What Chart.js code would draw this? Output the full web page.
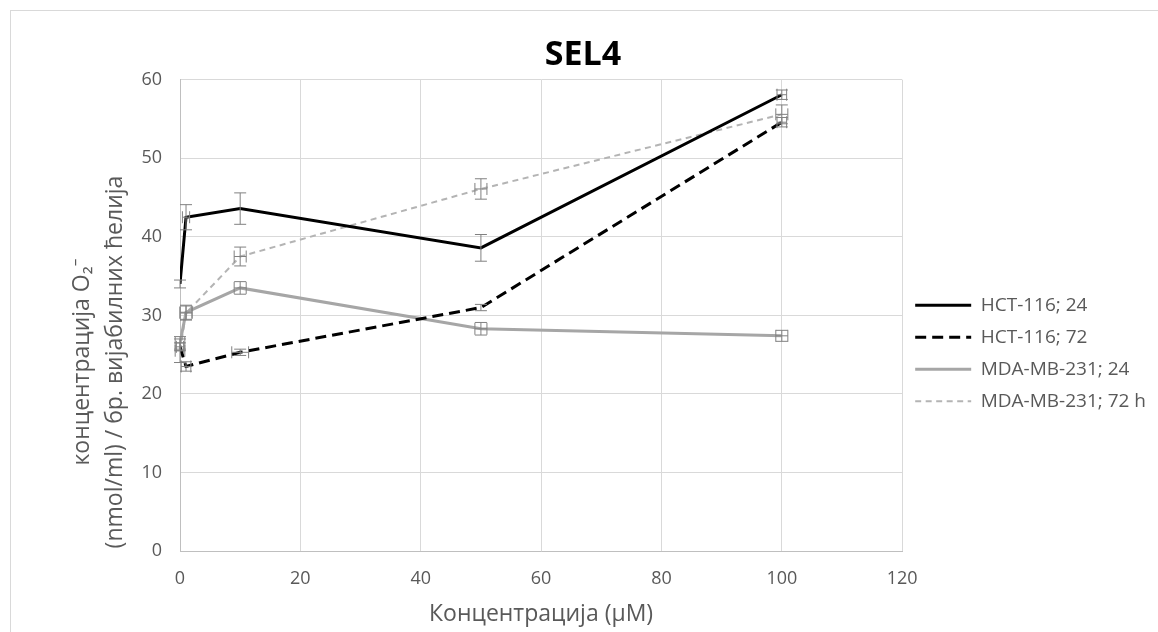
<!DOCTYPE html>
<html>
<head>
<meta charset="utf-8">
<script src="https://cdn.jsdelivr.net/npm/chart.js@4"></script>
<style>
  body { margin: 0; background: #fff; }
  #wrap { position: relative; width: 1158px; height: 632px; overflow: hidden; }
  #frame { position: absolute; left: 10px; top: 10px; width: 1160px; height: 640px; border: 1px solid #d9d9d9; }
  canvas { position: absolute; left: 0; top: 0; }
</style>
</head>
<body>
<div id="wrap">
  <div id="frame"></div>
  <canvas id="myChart" width="1158" height="632"></canvas>
</div>
<script>
  //concentrations (µM)
  var conc = [0, 1, 10, 50, 100];

  //series values
  var hct24 = [34, 42.5, 43.6, 38.6, 58.1];
  var hct72 = [26, 23.5, 25.3, 31, 54.6];
  var mda24 = [26.5, 30.4, 33.5, 28.3, 27.4];
  var mda72 = [25.5, 30.3, 37.5, 46.1, 55.6];

  //error bars (y and x)
  var hct24Err = [0.5, 1.6, 2.0, 1.7, 0.6];
  var hct72Err = [0.5, 0.6, 0.4, 0.4, 0.6];
  var mda24Err = [0.8, 0.9, 0.8, 0.8, 0.7];
  var mda72Err = [1.5, 0.9, 1.2, 1.3, 1.2];
  var hct24XErr = [0, 0.6, 0, 0, 0.8];
  var hct72XErr = [0.6, 0.8, 1.4, 0, 0.8];
  var mda24XErr = [0.8, 1, 1, 1, 1];
  var mda72XErr = [0.8, 1, 1, 1, 1];

  var labels = ["HCT-116; 24", "HCT-116; 72", "MDA-MB-231; 24", "MDA-MB-231; 72 h"];
  var xTicks = [0, 20, 40, 60, 80, 100, 120];
  var yTicks = [0, 10, 20, 30, 40, 50, 60];
  var yTitle = ['концентрација O₂⁻', '(nmol/ml) / бр. вијабилних ћелија'];

  var font = "'Open Sans', 'Noto Sans', sans-serif";

  function pts(ys){
    return conc.map(function(c, i){ return {x: c, y: ys[i]}; });
  }

  //draws the error bars through the chart's scales
  var errorBars = {
    id: 'errorBars',
    afterDatasetsDraw: function(chart){
      var ctx = chart.ctx;
      var xs = chart.scales.x, ys = chart.scales.y;
      ctx.save();
      ctx.strokeStyle = '#808080';
      ctx.lineWidth = 1;
      chart.data.datasets.forEach(function(ds){
        ds.data.forEach(function(p, i){
          var px = xs.getPixelForValue(p.x);
          var py = ys.getPixelForValue(p.y);
          var e = ds.yErr[i], xe = ds.xErr[i];
          ctx.beginPath();
          if (e > 0) {
            var top = ys.getPixelForValue(p.y + e);
            var bot = ys.getPixelForValue(p.y - e);
            ctx.moveTo(px, top); ctx.lineTo(px, bot);
            ctx.moveTo(px - 6, top); ctx.lineTo(px + 6, top);
            ctx.moveTo(px - 6, bot); ctx.lineTo(px + 6, bot);
          }
          if (xe > 0) {
            var l = xs.getPixelForValue(p.x - xe);
            var r = xs.getPixelForValue(p.x + xe);
            ctx.moveTo(l, py); ctx.lineTo(r, py);
            ctx.moveTo(l, py - 6); ctx.lineTo(l, py + 6);
            ctx.moveTo(r, py - 6); ctx.lineTo(r, py + 6);
          }
          ctx.stroke();
        });
      });
      ctx.restore();
    }
  };

  //two line y axis title, sits a bit lower than the plot middle like in excel
  var yAxisTitle = {
    id: 'yAxisTitle',
    afterDraw: function(chart){
      var ctx = chart.ctx;
      ctx.save();
      ctx.translate(82, 362);
      ctx.rotate(-Math.PI / 2);
      ctx.fillStyle = '#595959';
      ctx.font = "23px " + font;
      ctx.textAlign = 'center';
      ctx.textBaseline = 'middle';
      yTitle.forEach(function(t, i){
        ctx.fillText(t, 0, i * 33);
      });
      ctx.restore();
    }
  };

  var ctx = document.getElementById("myChart");

  var myChart = new Chart(ctx, {
    type: 'line',
    data: {
      datasets: [
        { label: labels[0], data: pts(hct24), yErr: hct24Err, xErr: hct24XErr,
          borderColor: '#000000', borderWidth: 3, pointRadius: 0, tension: 0 },
        { label: labels[1], data: pts(hct72), yErr: hct72Err, xErr: hct72XErr,
          borderColor: '#000000', borderWidth: 3, borderDash: [11, 6], pointRadius: 0, tension: 0 },
        { label: labels[2], data: pts(mda24), yErr: mda24Err, xErr: mda24XErr,
          borderColor: '#a6a6a6', borderWidth: 3, pointRadius: 0, tension: 0 },
        { label: labels[3], data: pts(mda72), yErr: mda72Err, xErr: mda72XErr,
          borderColor: '#b4b4b4', borderWidth: 2, borderDash: [6, 4.5], pointRadius: 0, tension: 0 }
      ]
    },
    plugins: [errorBars, yAxisTitle],
    options: {
      responsive: false,
      animation: false,
      layout: { padding: { left: 10, top: 8, right: 2, bottom: 4 } },
      plugins: {
        title: {
          display: true, text: 'SEL4', color: '#000000',
          font: { family: font, size: 34, weight: 'bold', lineHeight: 1.2 },
          padding: { top: 27, bottom: 4 }
        },
        legend: {
          position: 'right',
          //empty title only pushes the rows down
          title: { display: true, text: ' ', font: { size: 12 }, padding: { top: 28, bottom: 28 } },
          labels: {
            usePointStyle: true, pointStyle: 'line', pointStyleWidth: 56,
            color: '#595959', font: { family: font, size: 19 }, padding: 13,
            generateLabels: function(chart){
              return chart.data.datasets.map(function(ds, i){
                return {
                  text: ds.label, datasetIndex: i, pointStyle: 'line',
                  strokeStyle: ds.borderColor, fillStyle: ds.borderColor,
                  lineWidth: ds.borderWidth, lineDash: ds.borderDash || [],
                  fontColor: '#595959', hidden: false
                };
              });
            }
          }
        },
        tooltip: { enabled: false }
      },
      scales: {
        x: {
          type: 'linear', min: 0, max: 120,
          afterBuildTicks: function(s){ s.ticks = xTicks.map(function(v){ return {value: v}; }); },
          afterFit: function(s){ s.height = 77; },
          grid: { color: '#d9d9d9', drawTicks: false },
          border: { color: '#bfbfbf' },
          ticks: { color: '#595959', font: { family: font, size: 18 }, padding: 17 },
          title: { display: true, text: 'Концентрација (µM)', color: '#595959',
                   font: { family: font, size: 23, lineHeight: 1.2 }, padding: { top: 0, bottom: 0 } }
        },
        y: {
          min: 0, max: 60,
          afterBuildTicks: function(s){ s.ticks = yTicks.map(function(v){ return {value: v}; }); },
          afterFit: function(s){ s.width = 170; },
          grid: { color: '#d9d9d9', drawTicks: false },
          border: { color: '#bfbfbf' },
          ticks: { color: '#595959', font: { family: font, size: 18 }, padding: 18 }
        }
      }
    }
  });
</script>
</body>
</html>
